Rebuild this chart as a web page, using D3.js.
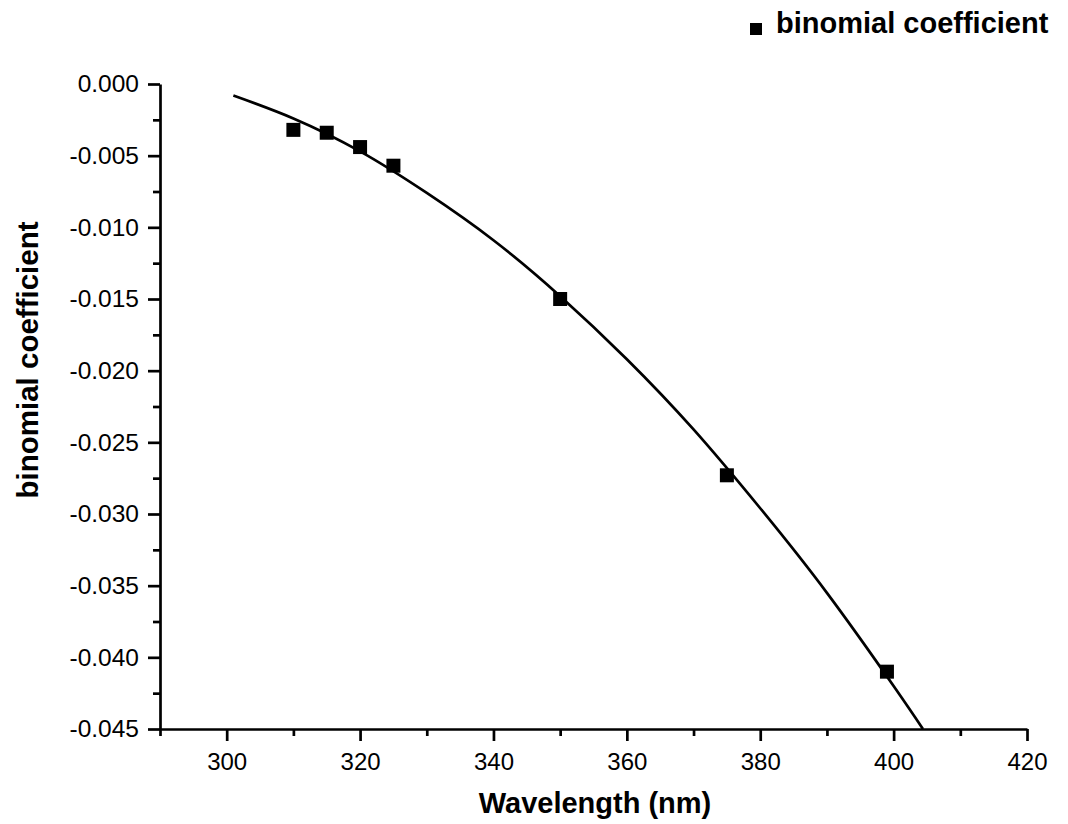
<!DOCTYPE html>
<html lang="en">
<head>
    <meta charset="UTF-8">
    <title>binomial coefficient</title>
    <script src="https://d3js.org/d3.v7.min.js"></script>
    <style>
        body { margin: 0; background: #fff; }
        text { font-family: "Liberation Sans", Arial, sans-serif; fill: #000; }
    </style>
</head>
<body>
    <div id="chart"></div>
    <script>
    // measured points
    var wavelength = [310, 315, 320, 325, 350, 375, 399];
    var coeff = [-0.0032, -0.0034, -0.0044, -0.0057, -0.0150, -0.0273, -0.0410];

    // fitted line
    var fitX = [301, 310, 320, 330, 340, 350, 360, 370, 380, 390, 400, 404.4];
    var fitY = [-0.0008, -0.0024, -0.0047, -0.0076, -0.0109, -0.0148, -0.0192, -0.0241, -0.0296, -0.0355, -0.0420, -0.0450];

    var xMajor = [300, 320, 340, 360, 380, 400, 420];
    var xMinor = [290, 310, 330, 350, 370, 390, 410];
    var yMajor = [0, -0.005, -0.010, -0.015, -0.020, -0.025, -0.030, -0.035, -0.040, -0.045];
    var yMinor = [-0.0025, -0.0075, -0.0125, -0.0175, -0.0225, -0.0275, -0.0325, -0.0375, -0.0425];

    var W = 1068, H = 824;
    var margin = {top: 84, right: 41, bottom: 95, left: 160},
        width = W - margin.left - margin.right,
        height = H - margin.top - margin.bottom;

    var svg = d3.select("#chart")
        .append("svg")
        .attr("width", W)
        .attr("height", H);

    var g = svg.append("g")
        .attr("transform", "translate(" + margin.left + "," + margin.top + ")");

    var x = d3.scaleLinear().domain([290, 420]).range([0, width]);
    var y = d3.scaleLinear().domain([-0.045, 0]).range([height, 0]);

    var fmt = function(d) { return d3.format(".3f")(d).replace("\u2212", "-"); };

    // x axis
    var xAxis = g.append("g")
        .attr("transform", "translate(0," + height + ")")
        .call(d3.axisBottom(x).tickValues(xMajor).tickSize(12).tickSizeOuter(0).tickPadding(8));
    g.append("g")
        .attr("transform", "translate(0," + height + ")")
        .call(d3.axisBottom(x).tickValues(xMinor).tickSize(7).tickFormat(""))
        .select(".domain").remove();

    // y axis
    var yAxis = g.append("g")
        .call(d3.axisLeft(y).tickValues(yMajor).tickFormat(fmt).tickSize(12).tickSizeOuter(0).tickPadding(9));
    g.append("g")
        .call(d3.axisLeft(y).tickValues(yMinor).tickSize(7).tickFormat(""))
        .select(".domain").remove();

    g.selectAll(".domain").attr("stroke", "#000").attr("stroke-width", 2.7);
    g.selectAll(".tick line").attr("stroke", "#000").attr("stroke-width", 2.7);
    g.selectAll(".tick text")
        .style("font-family", "'Liberation Sans', Arial, sans-serif")
        .attr("fill", "#000");
    yAxis.selectAll(".tick text").style("font-size", "24.5px");
    xAxis.selectAll(".tick text").style("font-size", "24px").attr("dy", "0.88em");

    // fitted curve
    var line = d3.line()
        .x(function(d, i) { return x(fitX[i]); })
        .y(function(d) { return y(d); })
        .curve(d3.curveNatural);
    g.append("path")
        .datum(fitY)
        .attr("d", line)
        .attr("fill", "none")
        .attr("stroke", "#000")
        .attr("stroke-width", 2.7);

    // square markers
    var sq = d3.symbol().type(d3.symbolSquare).size(196);
    g.selectAll(".pt")
        .data(coeff)
        .enter()
        .append("path")
        .attr("class", "pt")
        .attr("d", sq)
        .attr("transform", function(d, i) { return "translate(" + x(wavelength[i]) + "," + y(d) + ")"; })
        .attr("fill", "#000");

    // axis titles
    svg.append("text")
        .attr("x", 595)
        .attr("y", 813)
        .attr("text-anchor", "middle")
        .style("font-size", "29px")
        .style("font-weight", "bold")
        .text("Wavelength (nm)");

    svg.append("text")
        .attr("transform", "translate(38,360) rotate(-90)")
        .attr("text-anchor", "middle")
        .style("font-size", "29.5px")
        .style("font-weight", "bold")
        .text("binomial coefficient");

    // legend
    svg.append("rect")
        .attr("x", 750).attr("y", 23)
        .attr("width", 12).attr("height", 12)
        .attr("fill", "#000");
    svg.append("text")
        .attr("x", 776)
        .attr("y", 33)
        .style("font-size", "29px")
        .style("font-weight", "bold")
        .text("binomial coefficient");
    </script>
</body>
</html>
